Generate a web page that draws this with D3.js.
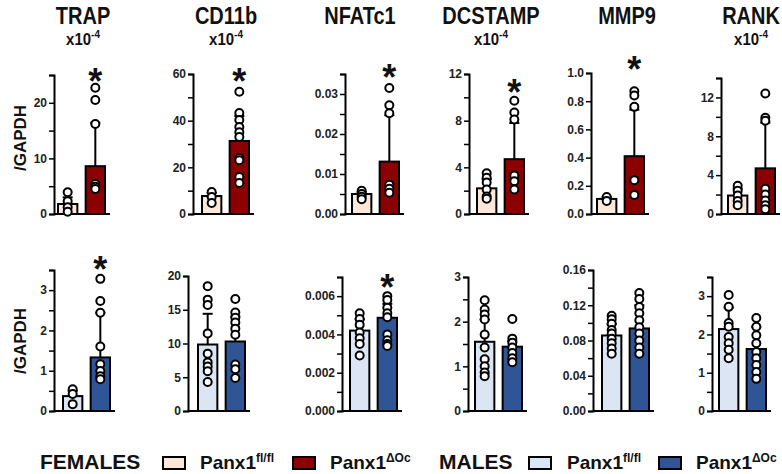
<!DOCTYPE html>
<html>
<head>
<meta charset="utf-8">
<script src="https://cdn.jsdelivr.net/npm/d3@7"></script>
<style>
  body { margin: 0; background: #fff; }
  svg { display: block; font-family: "Liberation Sans", Arial, sans-serif; }
</style>
</head>
<body>
<div id="chart"></div>
<script>
// genes shown as columns
const genes = ['TRAP', 'CD11b', 'NFATc1', 'DCSTAMP', 'MMP9', 'RANK'];
const hasX10 = [true, true, false, true, false, true];

// FEMALES (top row)
const femMeanFl = [1.8, 7.7, 0.005, 2.2, 0.107, 1.9];
const femMeanKo = [8.6, 31.3, 0.0131, 4.7, 0.41, 4.7];
const femErrFl = [3.0, 9.0, 0.0055, 3.0, 0.12, 2.6];
const femErrKo = [16.4, 42, 0.0247, 7.8, 0.74, 9.4];
const femDotsFl = [
  [3.9, 2.3, 1.2, 0.4],
  [9.4, 7.3, 4.7],
  [0.0058, 0.005, 0.0043, 0.0037],
  [3.5, 3.1, 2.7, 2.1, 1.5, 1.3],
  [0.12, 0.093],
  [2.9, 2.4, 1.9, 1.35, 0.9]
];
const femDotsKo = [
  [22.7, 20.5, 16.2, 5.4, 4.9, 4.5],
  [52.4, 43.3, 40.3, 37.3, 35, 33, 24, 23, 15.9, 13.3],
  [0.0315, 0.0272, 0.0252, 0.0073, 0.0063, 0.0053],
  [9.7, 8.7, 8.1, 3.3, 2.8, 2.1],
  [0.87, 0.84, 0.76, 0.24, 0.135],
  [12.4, 9.9, 9.6, 2.6, 2.0, 1.4, 0.9, 0.5]
];
const femSig = [true, true, true, true, true, false];
const femYMax = [25, 60, 0.035, 12, 1.0, 14];
const femTicks = [[0, 10, 20], [0, 20, 40, 60], [0, 0.01, 0.02, 0.03], [0, 4, 8, 12], [0, 0.2, 0.4, 0.6, 0.8, 1.0], [0, 4, 8, 12]];
const femMinor = [[5, 15, 25], [10, 30, 50], [0.005, 0.015, 0.025, 0.035], [2, 6, 10], [], [2, 6, 10, 14]];
const femFmt = ['d', 'd', '.2f', 'd', '.1f', 'd'];

// MALES (bottom row)
const malMeanFl = [0.37, 9.85, 0.0042, 1.55, 0.0857, 2.14];
const malMeanKo = [1.33, 10.3, 0.00487, 1.44, 0.0937, 1.62];
const malErrFl = [0.5, 14.4, 0.0048, 2.05, 0.099, 2.7];
const malErrKo = [2.44, 14.0, 0.0056, 1.56, 0.12, 2.2];
const malDotsFl = [
  [0.54, 0.42, 0.17],
  [18.5, 16.5, 15.7, 11.5, 8.5, 7.2, 6.6, 5.9, 4.3],
  [0.0051, 0.0048, 0.0045, 0.0041, 0.0038, 0.0035, 0.0029],
  [2.48, 2.27, 2.16, 2.05, 1.71, 1.42, 1.16, 1.0, 0.86, 0.78],
  [0.108, 0.104, 0.099, 0.092, 0.088, 0.082, 0.077, 0.071, 0.065],
  [3.03, 2.72, 2.3, 2.2, 1.93, 1.77, 1.6, 1.38]
];
const malDotsKo = [
  [3.28, 2.73, 2.44, 1.6, 1.16, 0.99, 0.86, 0.79],
  [16.6, 14.6, 13.8, 13.1, 12.2, 11.3, 6.9, 6.2, 4.9],
  [0.006, 0.0058, 0.0054, 0.0051, 0.0049, 0.004, 0.0037, 0.0035, 0.0034],
  [2.06, 1.62, 1.53, 1.42, 1.3, 1.18, 1.09],
  [0.134, 0.127, 0.118, 0.111, 0.103, 0.095, 0.088, 0.080, 0.072, 0.065],
  [2.43, 2.2, 1.98, 1.77, 1.54, 1.38, 1.2, 1.02, 0.84]
];
const malSig = [true, false, true, false, false, false];
const malYMax = [3.5, 20, 0.007, 3, 0.16, 3.5];
const malTicks = [[0, 1, 2, 3], [0, 5, 10, 15, 20], [0, 0.002, 0.004, 0.006], [0, 1, 2, 3], [0, 0.04, 0.08, 0.12, 0.16], [0, 1, 2, 3]];
const malMinor = [[0.5, 1.5, 2.5, 3.5], [], [0.001, 0.003, 0.005, 0.007], [0.5, 1.5, 2.5], [0.02, 0.06, 0.1, 0.14], [0.5, 1.5, 2.5, 3.5]];
const malFmt = ['d', 'd', '.3f', 'd', '.2f', 'd'];

const groups = ['fl', 'ko'];

// layout
const W = 782, H = 474;
const FONT = '"Liberation Sans", Arial, sans-serif';
const BAR_SPAN = 47;
const rows = [
  {
    axisX: [54, 193, 345, 469, 591, 721], barOff: [4, 9, 7, 8, 6, 7],
    base: 214, top: [75, 74, 74, 74, 73, 78], starGap: [14, 18, 18, 16, 29, 0],
    colors: ['#fce8d8', '#8b0000'], labelY: 138,
    meanFl: femMeanFl, meanKo: femMeanKo, errFl: femErrFl, errKo: femErrKo,
    dotsFl: femDotsFl, dotsKo: femDotsKo, sig: femSig, yMax: femYMax,
    ticks: femTicks, minor: femMinor, fmt: femFmt
  },
  {
    axisX: [54, 188, 342, 468, 593, 712], barOff: [9, 10, 8, 7, 9, 7],
    base: 411, top: [270, 276, 277, 277, 270, 277], starGap: [17, 0, 16, 0, 0, 0],
    colors: ['#dbe5f4', '#2f5597'], labelY: 341,
    meanFl: malMeanFl, meanKo: malMeanKo, errFl: malErrFl, errKo: malErrKo,
    dotsFl: malDotsFl, dotsKo: malDotsKo, sig: malSig, yMax: malYMax,
    ticks: malTicks, minor: malMinor, fmt: malFmt
  }
];
const titleX = [83, 226, 360, 491, 627, 751];

const svg = d3.select('#chart').append('svg')
  .attr('width', W).attr('height', H);

// gene titles
genes.forEach((g, i) => {
  svg.append('text')
    .attr('transform', `translate(${titleX[i]}, 24) scale(1, 1.2)`)
    .attr('text-anchor', 'middle')
    .attr('font-size', 20).attr('font-weight', 'bold').attr('fill', '#111')
    .text(g);
  if (hasX10[i]) {
    const t = svg.append('text')
      .attr('transform', `translate(${titleX[i]}, 45) scale(1, 1.1)`)
      .attr('text-anchor', 'middle')
      .attr('font-size', 15).attr('font-weight', 'bold').attr('fill', '#111');
    t.append('tspan').text('x10');
    t.append('tspan').attr('font-size', 10).attr('dy', -6).text('-4');
  }
});

rows.forEach(r => {
  svg.append('text')
    .attr('transform', `translate(20, ${r.labelY}) rotate(-90)`)
    .attr('text-anchor', 'middle').attr('dominant-baseline', 'central')
    .attr('font-size', 17).attr('font-weight', 'bold').attr('fill', '#111')
    .text('/GAPDH');

  genes.forEach((g, i) => {
    const ax = r.axisX[i];
    const y = d3.scaleLinear().domain([0, r.yMax[i]]).range([r.base, r.top[i]]);
    const x = d3.scaleBand().domain(groups)
      .range([ax + r.barOff[i], ax + r.barOff[i] + BAR_SPAN])
      .paddingInner(0.3);

    const panel = svg.append('g');

    // x baseline
    panel.append('line')
      .attr('x1', ax).attr('x2', ax + r.barOff[i] + BAR_SPAN + 5)
      .attr('y1', r.base).attr('y2', r.base)
      .attr('stroke', '#000').attr('stroke-width', 2);

    const bars = [
      { k: 'fl', mean: r.meanFl[i], err: r.errFl[i], dots: r.dotsFl[i], c: r.colors[0] },
      { k: 'ko', mean: r.meanKo[i], err: r.errKo[i], dots: r.dotsKo[i], c: r.colors[1] }
    ];

    // error bars (up only)
    bars.forEach(b => {
      const cx = x(b.k) + x.bandwidth() / 2;
      panel.append('line')
        .attr('x1', cx).attr('x2', cx)
        .attr('y1', y(b.mean)).attr('y2', y(b.err))
        .attr('stroke', '#000').attr('stroke-width', 2);
      panel.append('line')
        .attr('x1', cx - 5).attr('x2', cx + 5)
        .attr('y1', y(b.err)).attr('y2', y(b.err))
        .attr('stroke', '#000').attr('stroke-width', 2);
    });

    panel.selectAll('rect.bar').data(bars).enter().append('rect')
      .attr('class', 'bar')
      .attr('x', d => x(d.k))
      .attr('y', d => y(d.mean))
      .attr('width', x.bandwidth())
      .attr('height', d => r.base - y(d.mean))
      .attr('fill', d => d.c)
      .attr('stroke', '#000').attr('stroke-width', 2);

    bars.forEach(b => {
      const cx = x(b.k) + x.bandwidth() / 2;
      panel.selectAll(null).data(b.dots).enter().append('circle')
        .attr('cx', cx)
        .attr('cy', d => y(d))
        .attr('r', 4)
        .attr('fill', '#fff')
        .attr('stroke', '#000').attr('stroke-width', 2);
    });

    // y axis
    const axisG = panel.append('g')
      .attr('transform', `translate(${ax}, 0)`)
      .call(d3.axisLeft(y).tickValues(r.ticks[i]).tickFormat(d3.format(r.fmt[i]))
        .tickSizeOuter(0).tickSize(5).tickPadding(2));
    axisG.select('.domain').attr('stroke', '#000').attr('stroke-width', 2);
    axisG.selectAll('.tick line').attr('stroke', '#000').attr('stroke-width', 1.5);
    axisG.selectAll('.tick text')
      .attr('font-family', FONT).attr('font-size', 12)
      .attr('font-weight', 'bold').attr('fill', '#222');

    const minorG = panel.append('g')
      .attr('transform', `translate(${ax}, 0)`)
      .call(d3.axisLeft(y).tickValues(r.minor[i]).tickFormat('').tickSizeOuter(0).tickSize(5));
    minorG.select('.domain').remove();
    minorG.selectAll('.tick line').attr('stroke', '#000').attr('stroke-width', 1.5);

    if (r.sig[i]) {
      const top = d3.max(bars[1].dots.concat([bars[1].err]));
      panel.append('text')
        .attr('x', x('ko') + x.bandwidth() / 2)
        .attr('y', y(top) - r.starGap[i] + 20)
        .attr('text-anchor', 'middle')
        .attr('font-size', 36).attr('font-weight', 'bold').attr('fill', '#111')
        .text('*');
    }
  });
});

// legend
const legendItems = [
  { type: 'head', text: 'FEMALES', x: 40 },
  { type: 'box', x: 163, c: '#fce8d8' },
  { type: 'lab', x: 200, sup: 'fl/fl' },
  { type: 'box', x: 293, c: '#8b0000' },
  { type: 'lab', x: 330, sup: '\u0394Oc' },
  { type: 'head', text: 'MALES', x: 439 },
  { type: 'box', x: 529, c: '#dbe5f4' },
  { type: 'lab', x: 567, sup: 'fl/fl' },
  { type: 'box', x: 659, c: '#2f5597' },
  { type: 'lab', x: 696, sup: '\u0394Oc' }
];
const lg = svg.append('g');
legendItems.forEach(it => {
  if (it.type === 'head') {
    lg.append('text').attr('x', it.x).attr('y', 469)
      .attr('font-size', 21).attr('font-weight', 'bold').attr('fill', '#111')
      .text(it.text);
  } else if (it.type === 'box') {
    lg.append('rect').attr('x', it.x).attr('y', 457).attr('width', 22).attr('height', 12)
      .attr('fill', it.c).attr('stroke', '#000').attr('stroke-width', 2);
  } else {
    const t = lg.append('text').attr('x', it.x).attr('y', 469)
      .attr('font-size', 19).attr('font-weight', 'bold').attr('fill', '#111');
    t.append('tspan').text('Panx1');
    t.append('tspan').attr('font-size', 12).attr('dy', -7).text(it.sup);
  }
});
</script>
</body>
</html>
